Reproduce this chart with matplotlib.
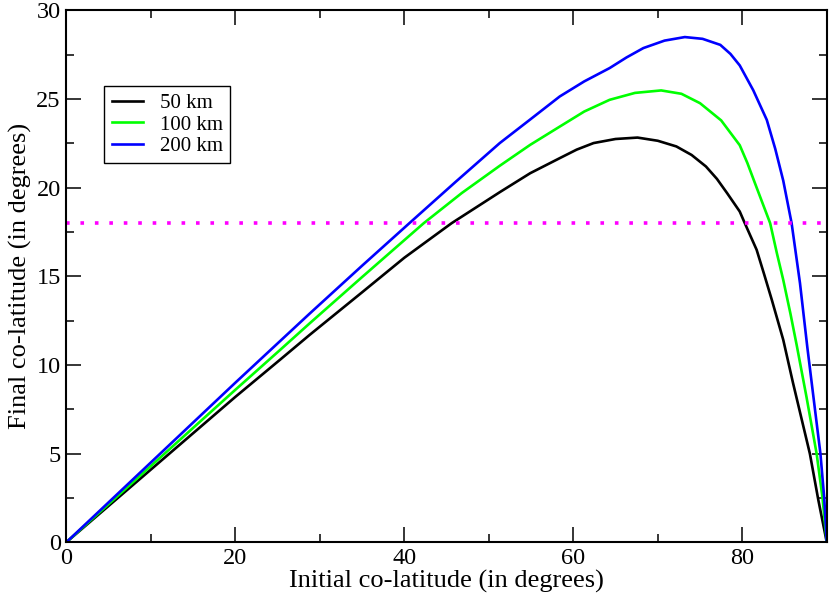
import matplotlib
matplotlib.use('Agg')
import matplotlib.pyplot as plt
from matplotlib.ticker import MultipleLocator

plt.rcParams['font.family'] = ['Liberation Serif', 'DejaVu Serif']

# values
x50 = [0, 10, 20, 25.3, 28.8, 35, 40, 45.6, 51.3, 54.9, 58.4, 60.4, 62.4, 65, 67.6, 70,
       72.2, 74, 75.7, 77, 78.2, 79.7, 80.3, 81.7, 82.6, 83.5, 84.85, 86, 87, 88, 89, 90]
y50 = [0, 4.1, 8.2, 10.3, 11.7, 14.1, 16.05, 18.0, 19.75, 20.82, 21.67, 22.15, 22.52, 22.75, 22.83, 22.65,
       22.33, 21.85, 21.2, 20.5, 19.7, 18.66, 18.0, 16.5, 15.1, 13.67, 11.42, 9.0, 7.0, 5.0, 2.39, 0]

x100 = [0, 10, 20, 25.3, 28.8, 35, 42.3, 46.8, 51.3, 54.9, 58.4, 61.3, 64.3, 67.3, 70.4, 72.8,
        75.0, 77.5, 79.7, 80.6, 81.5, 82.4, 83.3, 84.1, 84.85, 85.7, 86.45, 87.6, 88.8, 89.5, 90]
y100 = [0, 4.3, 8.6, 10.85, 12.35, 14.96, 18.0, 19.7, 21.24, 22.42, 23.45, 24.3, 24.96, 25.35, 25.49, 25.3,
        24.77, 23.8, 22.4, 21.4, 20.26, 19.13, 18.0, 16.3, 14.8, 12.9, 11.1, 8.2, 5.0, 2.5, 0]

x200 = [0, 10, 20, 25.3, 28.8, 35, 40.6, 46, 51.3, 54.9, 58.4, 61.3, 64.3, 66.3, 68.3, 70.8,
        73.2, 75.3, 77.4, 78.6, 79.7, 81.3, 82.9, 83.9, 84.85, 85.84, 86.83, 87.7, 88.5, 89.25, 89.7, 90]
y200 = [0, 4.5, 9.0, 11.35, 12.9, 15.6, 18.0, 20.3, 22.52, 23.85, 25.15, 26.0, 26.75, 27.35, 27.88, 28.3,
        28.5, 28.4, 28.06, 27.55, 26.9, 25.5, 23.83, 22.2, 20.4, 18.0, 14.62, 11.0, 7.9, 5.0, 2.5, 0]

ref_level = 18.0
labels = ['50 km', '100 km', '200 km']

fig = plt.figure(figsize=(8.3, 6.02), dpi=100)
ax = fig.add_axes([0.0799, 0.0992, 0.9162, 0.8834])

ax.plot(x50, y50, color='black', lw=1.9, label=labels[0])
ax.plot(x100, y100, color='#00ff00', lw=1.9, label=labels[1])
ax.plot(x200, y200, color='#0000ff', lw=1.9, label=labels[2])
ax.axhline(ref_level, color='#ff00ff', lw=2.6, linestyle=(0, (1, 3)), dash_capstyle='butt')

ax.set_xlim(0, 90)
ax.set_ylim(0, 30)
ax.xaxis.set_major_locator(MultipleLocator(20))
ax.xaxis.set_minor_locator(MultipleLocator(10))
ax.yaxis.set_major_locator(MultipleLocator(5))
ax.yaxis.set_minor_locator(MultipleLocator(2.5))
ax.tick_params(which='both', direction='in', top=True, right=True, labelsize=17.5, pad=4)
ax.tick_params(which='major', length=11, width=1.1)
ax.tick_params(which='minor', length=5.5, width=1.1)
for s in ax.spines.values():
    s.set_linewidth(1.5)

ax.set_xlabel('Initial co-latitude (in degrees)', fontsize=19, labelpad=1)
ax.set_ylabel('Final co-latitude (in degrees)', fontsize=19, labelpad=3)

leg = ax.legend(loc='upper left', bbox_to_anchor=(0.05, 0.858), borderaxespad=0,
                fontsize=15, fancybox=False, framealpha=1, edgecolor='black',
                handlelength=1.5, handletextpad=0.8, labelspacing=0.1, borderpad=0.35)
leg.get_frame().set_linewidth(1.0)

plt.savefig('out.png', dpi=100)
